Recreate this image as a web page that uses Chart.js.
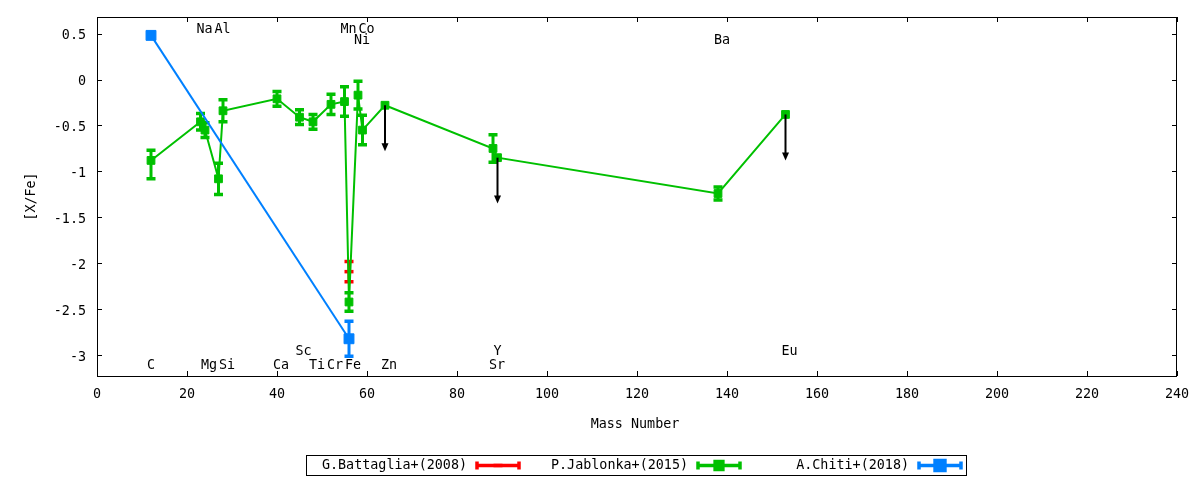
<!DOCTYPE html>
<html><head><meta charset="utf-8">
<script src="https://cdn.jsdelivr.net/npm/chart.js@4"></script>
<style>html,body{margin:0;padding:0;background:#fff;overflow:hidden}#wrap{width:1200px;height:480px}</style>
</head><body><div id="wrap"><canvas id="c" width="1200" height="480" style="width:1200px;height:480px"></canvas></div>
<script>
// ---- data ----
const seriesLabels = ['G.Battaglia+(2008)', 'P.Jablonka+(2015)', 'A.Chiti+(2018)'];
const seriesColors = ['#ff0000', '#00c000', '#0080ff'];

const battagliaMass = [56];
const battagliaValue = [-2.09];
const battagliaErr = [0.11];

const jablonkaMass = [12, 23, 24, 27, 28, 40, 45, 48, 52, 55, 56, 58, 59, 64, 88, 89, 138, 153];
const jablonkaValue = [-0.88, -0.46, -0.55, -1.08, -0.34, -0.21, -0.41, -0.46, -0.27, -0.24, -2.42, -0.17, -0.55, -0.28, -0.75, -0.85, -1.24, -0.38];
const jablonkaErrUp = [0.11, 0.09, 0.08, 0.17, 0.12, 0.08, 0.08, 0.08, 0.11, 0.16, 0.10, 0.15, 0.16, 0, 0.15, 0, 0.07, 0];
const jablonkaErrDown = [0.20, 0.09, 0.08, 0.17, 0.12, 0.08, 0.08, 0.08, 0.11, 0.16, 0.10, 0.15, 0.16, 0, 0.15, 0, 0.07, 0];
const jablonkaUpperLimit = [0, 0, 0, 0, 0, 0, 0, 0, 0, 0, 0, 0, 0, 1, 0, 1, 0, 1];

const chitiMass = [12, 56];
const chitiValue = [0.48, -2.82];
const chitiErr = [0, 0.19];

const elementNames = ['C', 'Na', 'Mg', 'Al', 'Si', 'Ca', 'Sc', 'Ti', 'Cr', 'Mn', 'Fe', 'Ni', 'Co', 'Zn', 'Sr', 'Y', 'Ba', 'Eu'];
const elementMass = [12, 23, 24, 27, 28, 40, 45, 48, 52, 55, 56, 58, 59, 64, 88, 89, 138, 153];
const elementLabelY = [-3.1, 0.55, -3.1, 0.55, -3.1, -3.1, -2.95, -3.1, -3.1, 0.55, -3.1, 0.44, 0.55, -3.1, -3.1, -2.95, 0.44, -2.95];

const xTickValues = [0, 20, 40, 60, 80, 100, 120, 140, 160, 180, 200, 220, 240];
const yTickValues = [0.5, 0, -0.5, -1, -1.5, -2, -2.5, -3];
const yTickLabels = ['0.5', '0', '-0.5', '-1', '-1.5', '-2', '-2.5', '-3'];
const xTitle = 'Mass Number';
const yTitle = '[X/Fe]';
const upperLimitLength = 0.5;

// ---- chart ----
const FONT = '"DejaVu Sans Mono", monospace';
const FSIZE = 13.4;

function pts(xs, ys) { return xs.map((x, i) => ({ x: x, y: ys[i] })); }

const errInfo = [
  { up: battagliaErr, down: battagliaErr, lim: null },
  { up: jablonkaErrUp, down: jablonkaErrDown, lim: jablonkaUpperLimit },
  { up: chitiErr, down: chitiErr, lim: null }
];

const overlay = {
  id: 'overlay',
  afterDatasetDraw(chart, args) {
    const i = args.index;
    const ds = chart.data.datasets[i];
    const xs = chart.scales.x, ys = chart.scales.y;
    const ctx = chart.ctx;
    const info = errInfo[i];
    ctx.save();
    ds.data.forEach((p, k) => {
      const px = xs.getPixelForValue(p.x);
      const eu = info.up[k], ed = info.down[k];
      if (eu > 0 || ed > 0) {
        const yt = ys.getPixelForValue(p.y + eu);
        const yb = ys.getPixelForValue(p.y - ed);
        ctx.strokeStyle = seriesColors[i];
        ctx.lineWidth = 3;
        ctx.beginPath(); ctx.moveTo(px, yt); ctx.lineTo(px, yb); ctx.stroke();
        ctx.lineWidth = 3.5;
        ctx.beginPath();
        ctx.moveTo(px - 4.5, yt); ctx.lineTo(px + 4.5, yt);
        ctx.moveTo(px - 4.5, yb); ctx.lineTo(px + 4.5, yb);
        ctx.stroke();
      }
      if (info.lim && info.lim[k]) {
        const y0 = ys.getPixelForValue(p.y);
        const y1 = ys.getPixelForValue(p.y - upperLimitLength);
        ctx.strokeStyle = '#000'; ctx.fillStyle = '#000'; ctx.lineWidth = 2;
        ctx.beginPath(); ctx.moveTo(px, y0); ctx.lineTo(px, y1 - 6); ctx.stroke();
        ctx.beginPath(); ctx.moveTo(px - 3.5, y1 - 8); ctx.lineTo(px + 3.5, y1 - 8); ctx.lineTo(px, y1); ctx.closePath(); ctx.fill();
      }
    });
    ctx.restore();
  },
  afterDraw(chart) {
    const ctx = chart.ctx, a = chart.chartArea;
    const xs = chart.scales.x, ys = chart.scales.y;
    ctx.save();
    // frame
    ctx.strokeStyle = '#000'; ctx.lineWidth = 1;
    ctx.strokeRect(Math.round(a.left) + 0.5, Math.round(a.top) + 0.5, Math.round(a.right - a.left) - 1, Math.round(a.bottom - a.top));
    // inward ticks
    const TL = 5;
    ctx.beginPath();
    xTickValues.forEach(v => {
      const x = Math.round(xs.getPixelForValue(v)) + 0.5;
      ctx.moveTo(x, a.bottom); ctx.lineTo(x, a.bottom - TL);
      ctx.moveTo(x, a.top); ctx.lineTo(x, a.top + TL);
    });
    yTickValues.forEach(v => {
      const y = Math.round(ys.getPixelForValue(v)) + 0.5;
      ctx.moveTo(a.left, y); ctx.lineTo(a.left + TL, y);
      ctx.moveTo(a.right, y); ctx.lineTo(a.right - TL, y);
    });
    ctx.stroke();
    // element labels
    ctx.fillStyle = '#000';
    ctx.font = FSIZE + 'px ' + FONT;
    ctx.textAlign = 'left'; ctx.textBaseline = 'middle';
    elementNames.forEach((n, k) => {
      ctx.fillText(n, xs.getPixelForValue(elementMass[k]) - 4, ys.getPixelForValue(elementLabelY[k]) + 1);
    });
    // axis titles
    ctx.textAlign = 'center';
    ctx.fillText(xTitle, (a.left + a.right) / 2 - 2, 425);
    ctx.save();
    ctx.translate(32, (a.top + a.bottom) / 2);
    ctx.rotate(-Math.PI / 2);
    ctx.fillText(yTitle, 0, 0);
    ctx.restore();
    // legend
    ctx.lineWidth = 1; ctx.strokeStyle = '#000';
    ctx.strokeRect(306.5, 455.5, 660, 20);
    const textEnds = [467, 688, 909];
    const cy = 465.5;
    const styles = chart.data.datasets;
    textEnds.forEach((te, i) => {
      ctx.fillStyle = '#000'; ctx.textAlign = 'right'; ctx.textBaseline = 'middle';
      ctx.fillText(seriesLabels[i], te, cy);
      const x0 = te + 10, x1 = te + 52;
      ctx.strokeStyle = seriesColors[i]; ctx.fillStyle = seriesColors[i];
      ctx.lineWidth = 3.5;
      ctx.beginPath(); ctx.moveTo(x0, cy); ctx.lineTo(x1, cy);
      ctx.moveTo(x0, cy - 4); ctx.lineTo(x0, cy + 4);
      ctx.moveTo(x1, cy - 4); ctx.lineTo(x1, cy + 4);
      ctx.stroke();
      const mx = (x0 + x1) / 2;
      const d = styles[i];
      Chart.helpers.drawPoint(ctx, { pointStyle: d.pointStyle, radius: d.pointRadius, borderWidth: d.pointBorderWidth || 1 }, mx, cy);
    });
    ctx.restore();
  }
};

new Chart(document.getElementById('c'), {
  type: 'scatter',
  data: {
    datasets: [
      { label: seriesLabels[0], data: pts(battagliaMass, battagliaValue), showLine: true,
        borderColor: seriesColors[0], backgroundColor: seriesColors[0], borderWidth: 2,
        pointStyle: 'line', pointRadius: 4.5, pointBorderWidth: 3.5, order: 3 },
      { label: seriesLabels[1], data: pts(jablonkaMass, jablonkaValue), showLine: true,
        borderColor: seriesColors[1], backgroundColor: seriesColors[1], borderWidth: 2,
        pointStyle: 'rect', pointRadius: 5.5, pointBorderWidth: 1, order: 2 },
      { label: seriesLabels[2], data: pts(chitiMass, chitiValue), showLine: true,
        borderColor: seriesColors[2], backgroundColor: seriesColors[2], borderWidth: 2,
        pointStyle: 'rect', pointRadius: 7, pointBorderWidth: 1, order: 1 }
    ]
  },
  options: {
    responsive: false, animation: false, devicePixelRatio: 1,
    layout: { padding: { left: 0, right: 23, top: 17, bottom: 0 } },
    plugins: { legend: { display: false }, tooltip: { enabled: false } },
    elements: { line: { tension: 0 } },
    scales: {
      x: {
        type: 'linear', min: 0, max: 240,
        grid: { display: false, drawTicks: false }, border: { display: false },
        ticks: { color: '#000', font: { family: FONT, size: FSIZE }, padding: 10, autoSkip: false, maxRotation: 0,
                 callback: (v) => String(v) },
        afterBuildTicks(s) { s.ticks = xTickValues.map(v => ({ value: v })); },
        afterFit(s) { s.height = 104; s.paddingLeft = 0; s.paddingRight = 0; }
      },
      y: {
        type: 'linear', min: -3.225, max: 0.68,
        grid: { display: false, drawTicks: false }, border: { display: false },
        ticks: { color: '#000', font: { family: FONT, size: FSIZE }, padding: 11, autoSkip: false, labelOffset: 2,
                 callback: (v) => { const k = yTickValues.indexOf(v); return k >= 0 ? yTickLabels[k] : ''; } },
        afterBuildTicks(s) { s.ticks = yTickValues.map(v => ({ value: v })); },
        afterFit(s) { s.width = 97; s.paddingTop = 0; s.paddingBottom = 0; }
      }
    }
  },
  plugins: [overlay]
});
</script>
</body></html>
